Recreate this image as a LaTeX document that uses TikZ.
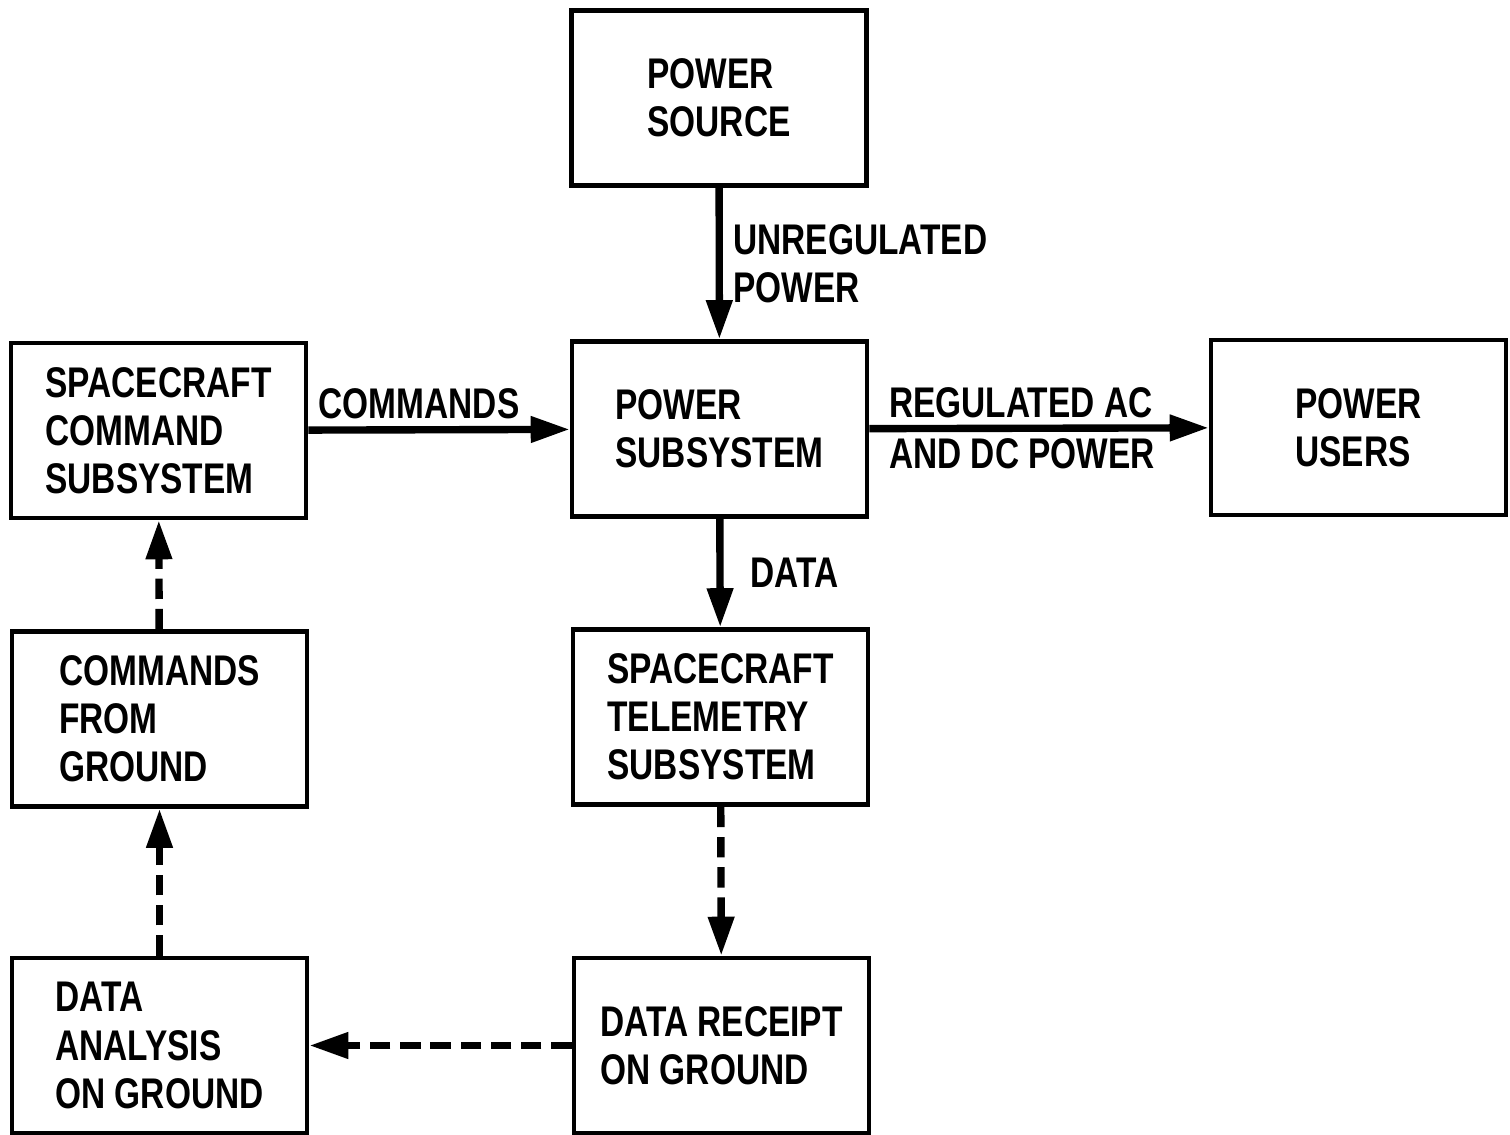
\documentclass[tikz,border=0pt]{standalone}
\usepackage{fontspec}
\newfontfamily\diafont[FakeStretch=0.78]{Liberation Sans}
\usetikzlibrary{arrows.meta, positioning}

\begin{document}
\begin{tikzpicture}[
  font=\diafont\bfseries\fontsize{12.2}{13.7}\selectfont,
  box/.style={draw=black, line width=1.3pt, align=left, inner sep=0pt,
              minimum width=29.5mm, minimum height=17.5mm},
  lbl/.style={align=left, inner sep=2pt},
  flow/.style={-{Triangle[length=3.9mm,width=2.5mm]}, line width=2.1pt},
  dflow/.style={flow, dash pattern=on 5.8pt off 2.8pt}
]
\useasboundingbox (0,0) rectangle (15.10,11.34);
\node[box] (source) at (7.19,10.36)  {POWER\\SOURCE};
\node[box] (psub)   at (7.195,7.05)  {POWER\\SUBSYSTEM};
\node[box] (users)  at (13.585,7.065) {POWER\\USERS};
\node[box] (cmdsub) at (1.585,7.035) {SPACECRAFT\\COMMAND\\SUBSYSTEM};
\node[box] (cmdgnd) at (1.595,4.15)  {COMMANDS\\FROM\\GROUND};
\node[box] (telem)  at (7.205,4.17)  {SPACECRAFT\\TELEMETRY\\SUBSYSTEM};
\node[box] (anal)   at (1.595,0.885) {DATA\\ANALYSIS\\ON GROUND};
\node[box] (rcpt)   at (7.215,0.885) {DATA RECEIPT\\ON GROUND};
\draw[flow] (source) -- node[lbl,right,xshift=1pt]{UNREGULATED\\POWER} (psub);
\draw[flow] (cmdsub) -- node[lbl,above,xshift=-2mm]{COMMANDS} (psub);
\draw[flow] (psub)   -- node[lbl,pos=0.45]{REGULATED AC\\[1pt]AND DC POWER} (users);
\draw[flow] (psub)   -- node[lbl,right,xshift=2mm]{DATA} (telem);
\draw[dflow] (telem)  -- (rcpt);
\draw[dflow] (rcpt)   -- (anal);
\draw[dflow] (anal)   -- (cmdgnd);
\draw[dflow] (cmdgnd) -- (cmdsub);
\end{tikzpicture}
\end{document}
